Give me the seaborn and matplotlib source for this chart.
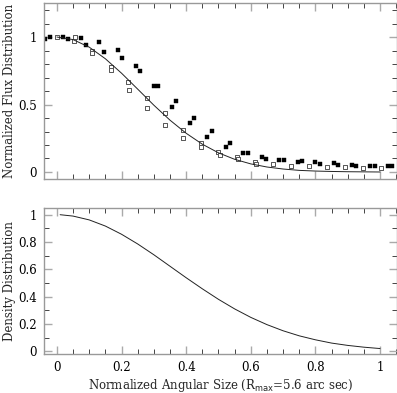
import numpy as np
import pandas as pd
import matplotlib
matplotlib.use('Agg')
import matplotlib.pyplot as plt
import seaborn as sns
from matplotlib.ticker import MultipleLocator, FormatStrFormatter

# filled squares (measured flux)
filled_x = [-0.037, -0.022, 0.020, 0.033, 0.076, 0.090, 0.131, 0.146, 0.188, 0.201,
            0.245, 0.257, 0.299, 0.313, 0.356, 0.368, 0.412, 0.424, 0.466, 0.480,
            0.522, 0.536, 0.577, 0.592, 0.634, 0.648, 0.688, 0.703, 0.745, 0.759,
            0.800, 0.814, 0.856, 0.870, 0.912, 0.927, 0.969, 0.984, 1.024, 1.038]
filled_y = [0.983, 1.003, 1.000, 0.983, 0.990, 0.940, 0.965, 0.890, 0.906, 0.847,
            0.788, 0.750, 0.635, 0.635, 0.480, 0.526, 0.363, 0.398, 0.262, 0.301,
            0.185, 0.212, 0.143, 0.143, 0.114, 0.099, 0.086, 0.086, 0.072, 0.079,
            0.072, 0.062, 0.067, 0.050, 0.052, 0.047, 0.047, 0.047, 0.047, 0.047]

# open squares
open_x = [0.000, 0.056, 0.053, 0.110, 0.108, 0.166, 0.168, 0.221, 0.224, 0.278,
          0.280, 0.333, 0.335, 0.389, 0.391, 0.445, 0.447, 0.500, 0.505, 0.556,
          0.559, 0.613, 0.615, 0.668, 0.724, 0.780, 0.836, 0.893, 0.947, 1.003]
open_y = [1.000, 1.000, 0.973, 0.900, 0.880, 0.780, 0.756, 0.667, 0.607, 0.546,
          0.476, 0.440, 0.350, 0.313, 0.252, 0.212, 0.183, 0.148, 0.128, 0.109,
          0.094, 0.072, 0.059, 0.057, 0.047, 0.044, 0.040, 0.035, 0.030, 0.030]

# model curves
curve_x = [0.00, 0.05, 0.10, 0.15, 0.20, 0.25, 0.30, 0.35, 0.40, 0.45, 0.50,
           0.55, 0.60, 0.65, 0.70, 0.75, 0.80, 0.85, 0.90, 0.95, 1.00]
flux_model = [1.000, 0.981, 0.925, 0.839, 0.732, 0.614, 0.495, 0.384, 0.287, 0.206, 0.142,
              0.094, 0.060, 0.037, 0.022, 0.012, 0.007, 0.004, 0.002, 0.001, 0.000]
dens_x = [0.01, 0.05, 0.10, 0.15, 0.20, 0.25, 0.30, 0.35, 0.40, 0.45, 0.50,
          0.55, 0.60, 0.65, 0.70, 0.75, 0.80, 0.85, 0.90, 0.95, 1.00]
density = [1.000, 0.990, 0.962, 0.917, 0.857, 0.786, 0.707, 0.623, 0.539, 0.458, 0.381,
           0.311, 0.249, 0.196, 0.151, 0.114, 0.085, 0.061, 0.044, 0.031, 0.021]

sns.set_style('ticks')
plt.rcParams['font.family'] = ['DejaVu Serif']
plt.rcParams['font.size'] = 8.5

fig = plt.figure(figsize=(3.97, 3.93), dpi=100)
ax1 = fig.add_axes([0.1108, 0.5445, 0.888, 0.4478])
ax2 = fig.add_axes([0.1108, 0.0992, 0.888, 0.3715])

sns.lineplot(x=curve_x, y=flux_model, ax=ax1, color='#222222', lw=0.7)
sns.scatterplot(x=filled_x, y=filled_y, ax=ax1, marker='s', s=6, color='black',
                edgecolor='black', linewidth=0.3)
sns.scatterplot(x=open_x, y=open_y, ax=ax1, marker='s', s=9, facecolor='white',
                edgecolor='#555555', linewidth=0.7)
sns.lineplot(x=dens_x, y=density, ax=ax2, color='#222222', lw=0.7)

ax1.set_xlim(-0.040, 1.051)
ax1.set_ylim(-0.052, 1.252)
ax2.set_xlim(-0.040, 1.051)
ax2.set_ylim(-0.019, 1.049)

for ax in (ax1, ax2):
    for sp in ax.spines.values():
        sp.set_visible(True)
        sp.set_color('#999999')
        sp.set_linewidth(1.0)
    ax.xaxis.set_major_locator(MultipleLocator(0.2))
    ax.xaxis.set_minor_locator(MultipleLocator(0.05))
    ax.tick_params(which='both', direction='in', top=True, right=True)
    ax.tick_params(which='major', length=6, width=1.0, color='#aaaaaa', pad=5,
                   labelsize=8.5, labelcolor='black')
    ax.tick_params(which='minor', length=3.5, width=0.7, color='#444444')
    ax.xaxis.set_major_formatter(FormatStrFormatter('%g'))
    ax.yaxis.set_major_formatter(FormatStrFormatter('%g'))

ax1.yaxis.set_major_locator(MultipleLocator(0.5))
ax1.yaxis.set_minor_locator(MultipleLocator(0.1))
ax1.tick_params(axis='x', labelbottom=False)
ax2.yaxis.set_major_locator(MultipleLocator(0.2))
ax2.yaxis.set_minor_locator(MultipleLocator(0.1))

ax1.set_ylabel('Normalized Flux Distribution', fontsize=8.5)
ax1.yaxis.set_label_coords(-0.08, 0.5)
ax2.set_ylabel('Density Distribution', fontsize=8.5)
ax2.yaxis.set_label_coords(-0.08, 0.5)
ax2.set_xlabel(r'Normalized Angular Size (R$_{\rm max}$=5.6 arc sec)', fontsize=8.5)
ax2.xaxis.set_label_coords(0.5, -0.16)

fig.savefig('out.png', dpi=100)
